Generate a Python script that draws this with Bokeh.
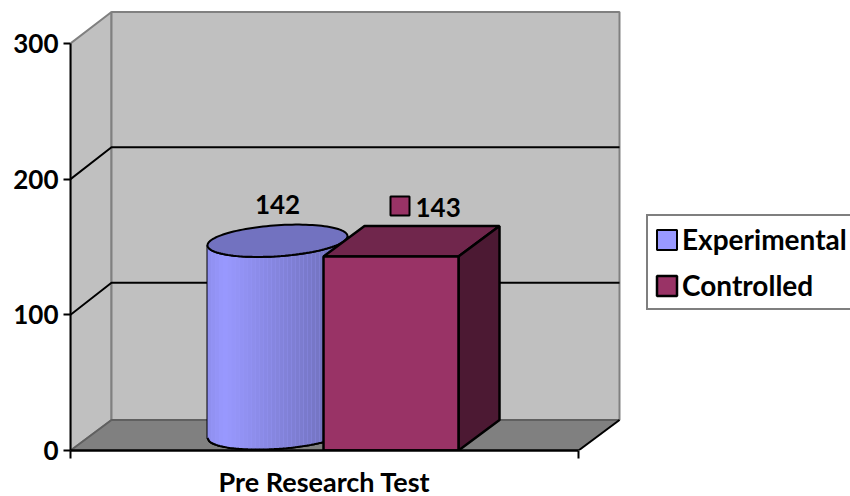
import numpy as np
from bokeh.core.properties import value
from bokeh.embed import file_html
from bokeh.models import FixedTicker, Legend, LegendItem, LinearAxis, Range1d
from bokeh.plotting import figure
from bokeh.resources import INLINE

category = "Pre Research Test"
series_names = ["Experimental", "Controlled"]
series_values = [142, 143]
y_ticks = [0, 100, 200, 300]

FONT = "Lato"
FS = "26px"
FSW = "28px"
PX = 407 / 300          # pixels per value unit
DX, DY = 41, 30.5 / PX  # depth of the 3D box
XMAX = 508              # axis length in px

p = figure(width=850, height=496, output_backend="svg", toolbar_location=None,
           x_range=Range1d(0, 780), y_range=Range1d(0, 450 / PX),
           x_axis_type=None, y_axis_type=None, frame_width=780, frame_height=450,
           min_border_left=70, min_border_right=0, min_border_top=0, min_border_bottom=46)
p.outline_line_color = None
p.grid.visible = False
p.background_fill_color = "white"

# walls & floor
GRID_DY = DY + 1.5 / PX
p.patch([0, DX, DX, 0], [0, DY, 300 + DY + 1 / PX, 300], fill_color="#C0C0C0", line_color="#808080", line_width=2)
p.patch([DX, XMAX + DX, XMAX + DX, DX], [DY, DY, 300 + DY + 1 / PX, 300 + DY + 1 / PX], fill_color="#C0C0C0", line_color="#808080", line_width=2)
for t in y_ticks[1:3]:
    p.line([0, DX, XMAX + DX], [t, t + GRID_DY, t + GRID_DY], line_color="black", line_width=2)
p.patch([0, DX, XMAX + DX, XMAX], [0, DY, DY, 0], fill_color="#808080", line_color=None)
p.line([0, DX, XMAX + DX], [0, DY, DY], line_color="#606060", line_width=2)
p.line([XMAX, XMAX + DX], [0, DY], line_color="black", line_width=2)

# cylinder (Experimental)
cx, rx, ry, shear = 207, 70, 15.5 / PX, 0.065 / PX
base = 12.6
top = base + series_values[0]

def front(xs, level):
    return level + shear * (xs - cx) - ry * np.sqrt(np.clip(1 - ((xs - cx) / rx) ** 2, 0, 1))

tt = np.linspace(0, 2 * np.pi, 121)
ex = cx + rx * np.cos(tt)
ey = ry * np.sin(tt) + shear * (ex - cx)
bx = np.linspace(cx - rx, cx + rx, 81)
body_x = np.r_[bx, bx[::-1]]
body_y = np.r_[front(bx, base), front(bx[::-1], top)]
cyl = p.patch(body_x, body_y, fill_color="#9999FF", line_color="black", line_width=2)

edges = np.linspace(cx - rx, cx + rx, 36)
def shade(f):
    if f < 0.12:
        k = 0.93 + 0.07 * f / 0.12
    else:
        k = 1 - 0.3 * (f - 0.12) / 0.88
    return "#%02x%02x%02x" % (int(0x99 * k), int(0x99 * k), int(0xFF * k))
for a, b in zip(edges[:-1], edges[1:]):
    sx = np.linspace(a, b, 4)
    p.patch(np.r_[sx, sx[::-1]], np.r_[front(sx, base), front(sx[::-1], top)],
            fill_color=shade((a + b) / 2 / (2 * rx) - (cx - rx) / (2 * rx)), line_color=None)
p.line(body_x, body_y, line_color="black", line_width=2)
p.patch(ex, top + ey, fill_color="#7272C0", line_color="black", line_width=2)

# box (Controlled)
bl, br = 253, 388
v = series_values[1]
p.patch([bl, bl + DX, br + DX, br], [v, v + DY, v + DY, v], fill_color="#70264C", line_color="black", line_width=2.5)
p.patch([br, br + DX, br + DX, br], [0, DY, v + DY, v], fill_color="#4C1933", line_color="black", line_width=2.5)
box = p.quad(left=[bl], right=[br], bottom=[0], top=[v], fill_color="#993366", line_color="black", line_width=2.5)

# data labels
p.text([cx], [top + 36 / PX], text=[str(series_values[0])], text_font=value(FONT), text_font_size=FS,
       text_font_style="bold", text_align="center", text_baseline="middle", text_color="black")
p.text([345], [v + 49 / PX], text=[str(v)], text_font=value(FONT), text_font_size=FS,
       text_font_style="bold", text_align="left", text_baseline="middle", text_color="black")
p.quad(left=[320], right=[339], bottom=[v + 41 / PX], top=[v + 60 / PX],
       fill_color="#993366", line_color="black", line_width=2)

# axes
ya = LinearAxis(ticker=FixedTicker(ticks=y_ticks), bounds=(0, 300))
ya.axis_line_color = "black"; ya.axis_line_width = 2
ya.major_tick_line_color = "black"; ya.major_tick_line_width = 2
ya.major_tick_out = 7; ya.major_tick_in = 0; ya.minor_tick_out = 0; ya.minor_tick_in = 0
ya.major_label_standoff = 5
ya.major_label_text_font = FONT; ya.major_label_text_font_size = FS
ya.major_label_text_font_style = "bold"; ya.major_label_text_color = "black"
p.add_layout(ya, "left")

xa = LinearAxis(ticker=FixedTicker(ticks=[XMAX / 2], minor_ticks=[0, XMAX]), bounds=(0, XMAX),
                major_label_overrides={XMAX / 2: category})
xa.axis_line_color = "black"; xa.axis_line_width = 2.5
xa.major_tick_line_color = None; xa.major_tick_out = 0; xa.major_tick_in = 0
xa.minor_tick_line_color = "black"; xa.minor_tick_line_width = 2
xa.minor_tick_out = 8; xa.minor_tick_in = 0
xa.major_label_standoff = 6
xa.major_label_text_font = FONT; xa.major_label_text_font_size = "27px"
xa.major_label_text_font_style = "bold"; xa.major_label_text_color = "black"
xa.major_label_text_line_height = 1.0
p.add_layout(xa, "below")

# legend
lg = Legend(items=[LegendItem(label=series_names[0], renderers=[cyl]),
                   LegendItem(label=series_names[1], renderers=[box])],
            location=(576, 140), padding=6, margin=0, spacing=12,
            glyph_width=25, glyph_height=25, label_height=25, label_standoff=3,
            border_line_color="black", border_line_width=2.5, background_fill_color="white",
            background_fill_alpha=1, label_text_font=FONT, label_text_font_size=FSW,
            label_text_font_style="bold", label_text_color="black")
p.add_layout(lg, "center")

open("out.html", "w").write(file_html(p, INLINE))
